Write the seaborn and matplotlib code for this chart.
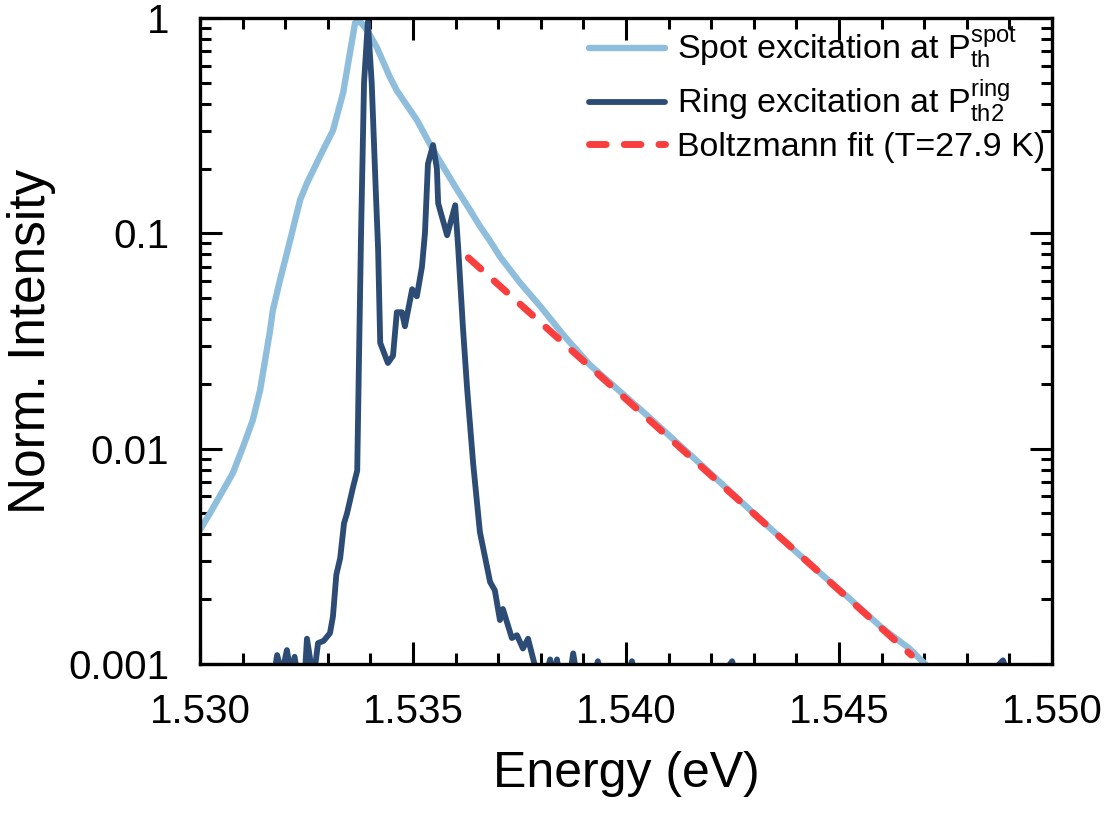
import matplotlib
matplotlib.use("Agg")
import matplotlib.pyplot as plt
from matplotlib.ticker import FixedLocator, FixedFormatter, MultipleLocator, LogLocator, NullFormatter
import seaborn as sns


# spot excitation spectrum (light blue)
SPOT_ENERGY = [1.5300, 1.53023, 1.53054, 1.53077, 1.53101, 1.53124, 1.53141, 1.53164,
               1.53171, 1.53188, 1.53204, 1.53235, 1.53251, 1.53289, 1.53312, 1.53336,
               1.53352, 1.53364, 1.53376, 1.53392, 1.53415, 1.53446, 1.53462, 1.53509,
               1.53547, 1.53603, 1.53634, 1.53657, 1.53681, 1.53704, 1.53751, 1.53798,
               1.53857, 1.53915, 1.54056, 1.54174, 1.54291, 1.54408, 1.54526, 1.54603,
               1.54665, 1.54702, 1.54740]
SPOT_INTENSITY = [0.0042, 0.0050, 0.0064, 0.0077, 0.0102, 0.0136, 0.0187, 0.035,
                  0.044, 0.061, 0.081, 0.143, 0.171, 0.244, 0.30, 0.45,
                  0.69, 0.95, 0.96, 0.88, 0.73, 0.53, 0.46, 0.336,
                  0.244, 0.160, 0.128, 0.108, 0.092, 0.078, 0.059, 0.046,
                  0.033, 0.0245, 0.0139, 0.0085, 0.0052, 0.0032, 0.0020, 0.00146,
                  0.00118, 0.00100, 0.00085]

# ring excitation spectrum (dark blue)
RING_ENERGY = [1.53120, 1.53170, 1.53181, 1.53192, 1.53204, 1.53213, 1.53222, 1.53232,
               1.53243, 1.53251, 1.53262, 1.53268, 1.53277, 1.53290, 1.53305, 1.53312,
               1.53320, 1.53329, 1.53338, 1.53345, 1.53359, 1.53369, 1.53373, 1.53378,
               1.53385, 1.53394, 1.53403, 1.53413, 1.53418, 1.53423, 1.53441, 1.53453,
               1.53462, 1.53474, 1.53481, 1.53498, 1.53509, 1.53521, 1.53528, 1.53535,
               1.53547, 1.53556, 1.53559, 1.53580, 1.53599, 1.53606, 1.53617, 1.53627,
               1.53641, 1.53657, 1.53681, 1.53692, 1.53704, 1.53711, 1.53732, 1.53744,
               1.53758, 1.53770, 1.53791, 1.53805, 1.53822, 1.53830, 1.53838, 1.53850,
               1.53865, 1.53876, 1.53888, 1.53910, 1.53934, 1.53950, 1.53990, 1.54014,
               1.54035, 1.54100, 1.54200, 1.54249, 1.54280, 1.54500, 1.54800, 1.54885,
               1.54920, 1.55000]
RING_INTENSITY = [0.0006, 0.0008, 0.00110, 0.00090, 0.00116, 0.00090, 0.00108, 0.00080,
                  0.00070, 0.00131, 0.00095, 0.00090, 0.00125, 0.00128, 0.00139, 0.00166,
                  0.0026, 0.0031, 0.0045, 0.0050, 0.0066, 0.0079, 0.025, 0.10,
                  0.50, 0.96, 0.50, 0.15, 0.085, 0.031, 0.025, 0.027,
                  0.043, 0.043, 0.037, 0.055, 0.051, 0.070, 0.100, 0.210,
                  0.257, 0.200, 0.138, 0.098, 0.135, 0.086, 0.037, 0.019,
                  0.0086, 0.0041, 0.0024, 0.0022, 0.0016, 0.0018, 0.00132, 0.00136,
                  0.00118, 0.00131, 0.00090, 0.00080, 0.00105, 0.00085, 0.00105, 0.00070,
                  0.00080, 0.00112, 0.00080, 0.00070, 0.00103, 0.00070, 0.00075, 0.00103,
                  0.00070, 0.00060, 0.00075, 0.00103, 0.00065, 0.00060, 0.00070, 0.00104,
                  0.00065, 0.00060]

FIT_ENERGY = [1.5363, 1.5467]
FIT_INTENSITY = [0.077, 0.0011]

LABELS = [r"Spot excitation at P$_{th}^{spot}$",
          r"Ring excitation at P$_{th2}^{ring}$",
          "Boltzmann fit (T=27.9 K)"]
COLORS = ["#8fbedc", "#2c4c75", "#fa3e3e"]

X_TICKS = [1.530, 1.535, 1.540, 1.545, 1.550]
X_TICK_LABELS = ["1.530", "1.535", "1.540", "1.545", "1.550"]
Y_TICKS = [0.001, 0.01, 0.1, 1]
Y_TICK_LABELS = ["0.001", "0.01", "0.1", "1"]


sns.set_theme(style="ticks")
plt.rcParams["font.family"] = ["Liberation Sans", "DejaVu Sans"]
plt.rcParams["mathtext.default"] = "regular"
plt.rcParams["text.color"] = "black"

fig, ax = plt.subplots(figsize=(11.07, 8.15), dpi=100)
fig.subplots_adjust(left=0.1807, right=0.9503, top=0.9779, bottom=0.1853)

sns.lineplot(x=SPOT_ENERGY, y=SPOT_INTENSITY, ax=ax, color=COLORS[0],
             linewidth=4.6, label=LABELS[0], estimator=None, sort=False)
sns.lineplot(x=RING_ENERGY, y=RING_INTENSITY, ax=ax, color=COLORS[1],
             linewidth=4.2, label=LABELS[1], estimator=None, sort=False)
sns.lineplot(x=FIT_ENERGY, y=FIT_INTENSITY, ax=ax, color=COLORS[2],
             linewidth=5.0, label=LABELS[2], estimator=None, sort=False)

fit_line = ax.get_lines()[-1]
fit_line.set_linestyle((0, (2.4, 2.6)))
fit_line.set_dash_capstyle("round")
for line in ax.get_lines()[:2]:
    line.set_solid_capstyle("round")
    line.set_solid_joinstyle("round")

ax.set_yscale("log")
ax.set_xlim(1.530, 1.550)
ax.set_ylim(0.001, 1)

ax.xaxis.set_major_locator(FixedLocator(X_TICKS))
ax.xaxis.set_major_formatter(FixedFormatter(X_TICK_LABELS))
ax.xaxis.set_minor_locator(MultipleLocator(0.001))
ax.yaxis.set_major_locator(FixedLocator(Y_TICKS))
ax.yaxis.set_major_formatter(FixedFormatter(Y_TICK_LABELS))
ax.yaxis.set_minor_locator(LogLocator(base=10, subs=range(2, 10)))
ax.yaxis.set_minor_formatter(NullFormatter())

ax.tick_params(which="both", direction="in", top=True, right=True,
               color="black", labelcolor="black", width=2.2)
ax.tick_params(which="major", length=16, labelsize=29)
ax.tick_params(which="minor", length=8)
ax.tick_params(axis="x", which="major", pad=21)
ax.tick_params(axis="y", which="major", pad=22)

for spine in ax.spines.values():
    spine.set_color("black")
    spine.set_linewidth(2.4)

ax.set_xlabel("Energy (eV)", fontsize=36, color="black", labelpad=14)
ax.set_ylabel("Norm. Intensity", fontsize=37, color="black", labelpad=9)

ax.legend(loc="upper right", frameon=False, fontsize=24.5, labelcolor="black",
          handlelength=2.25, handletextpad=0.35, labelspacing=0.2,
          borderaxespad=0.1, borderpad=0.1)

fig.savefig("out.png", dpi=100)
